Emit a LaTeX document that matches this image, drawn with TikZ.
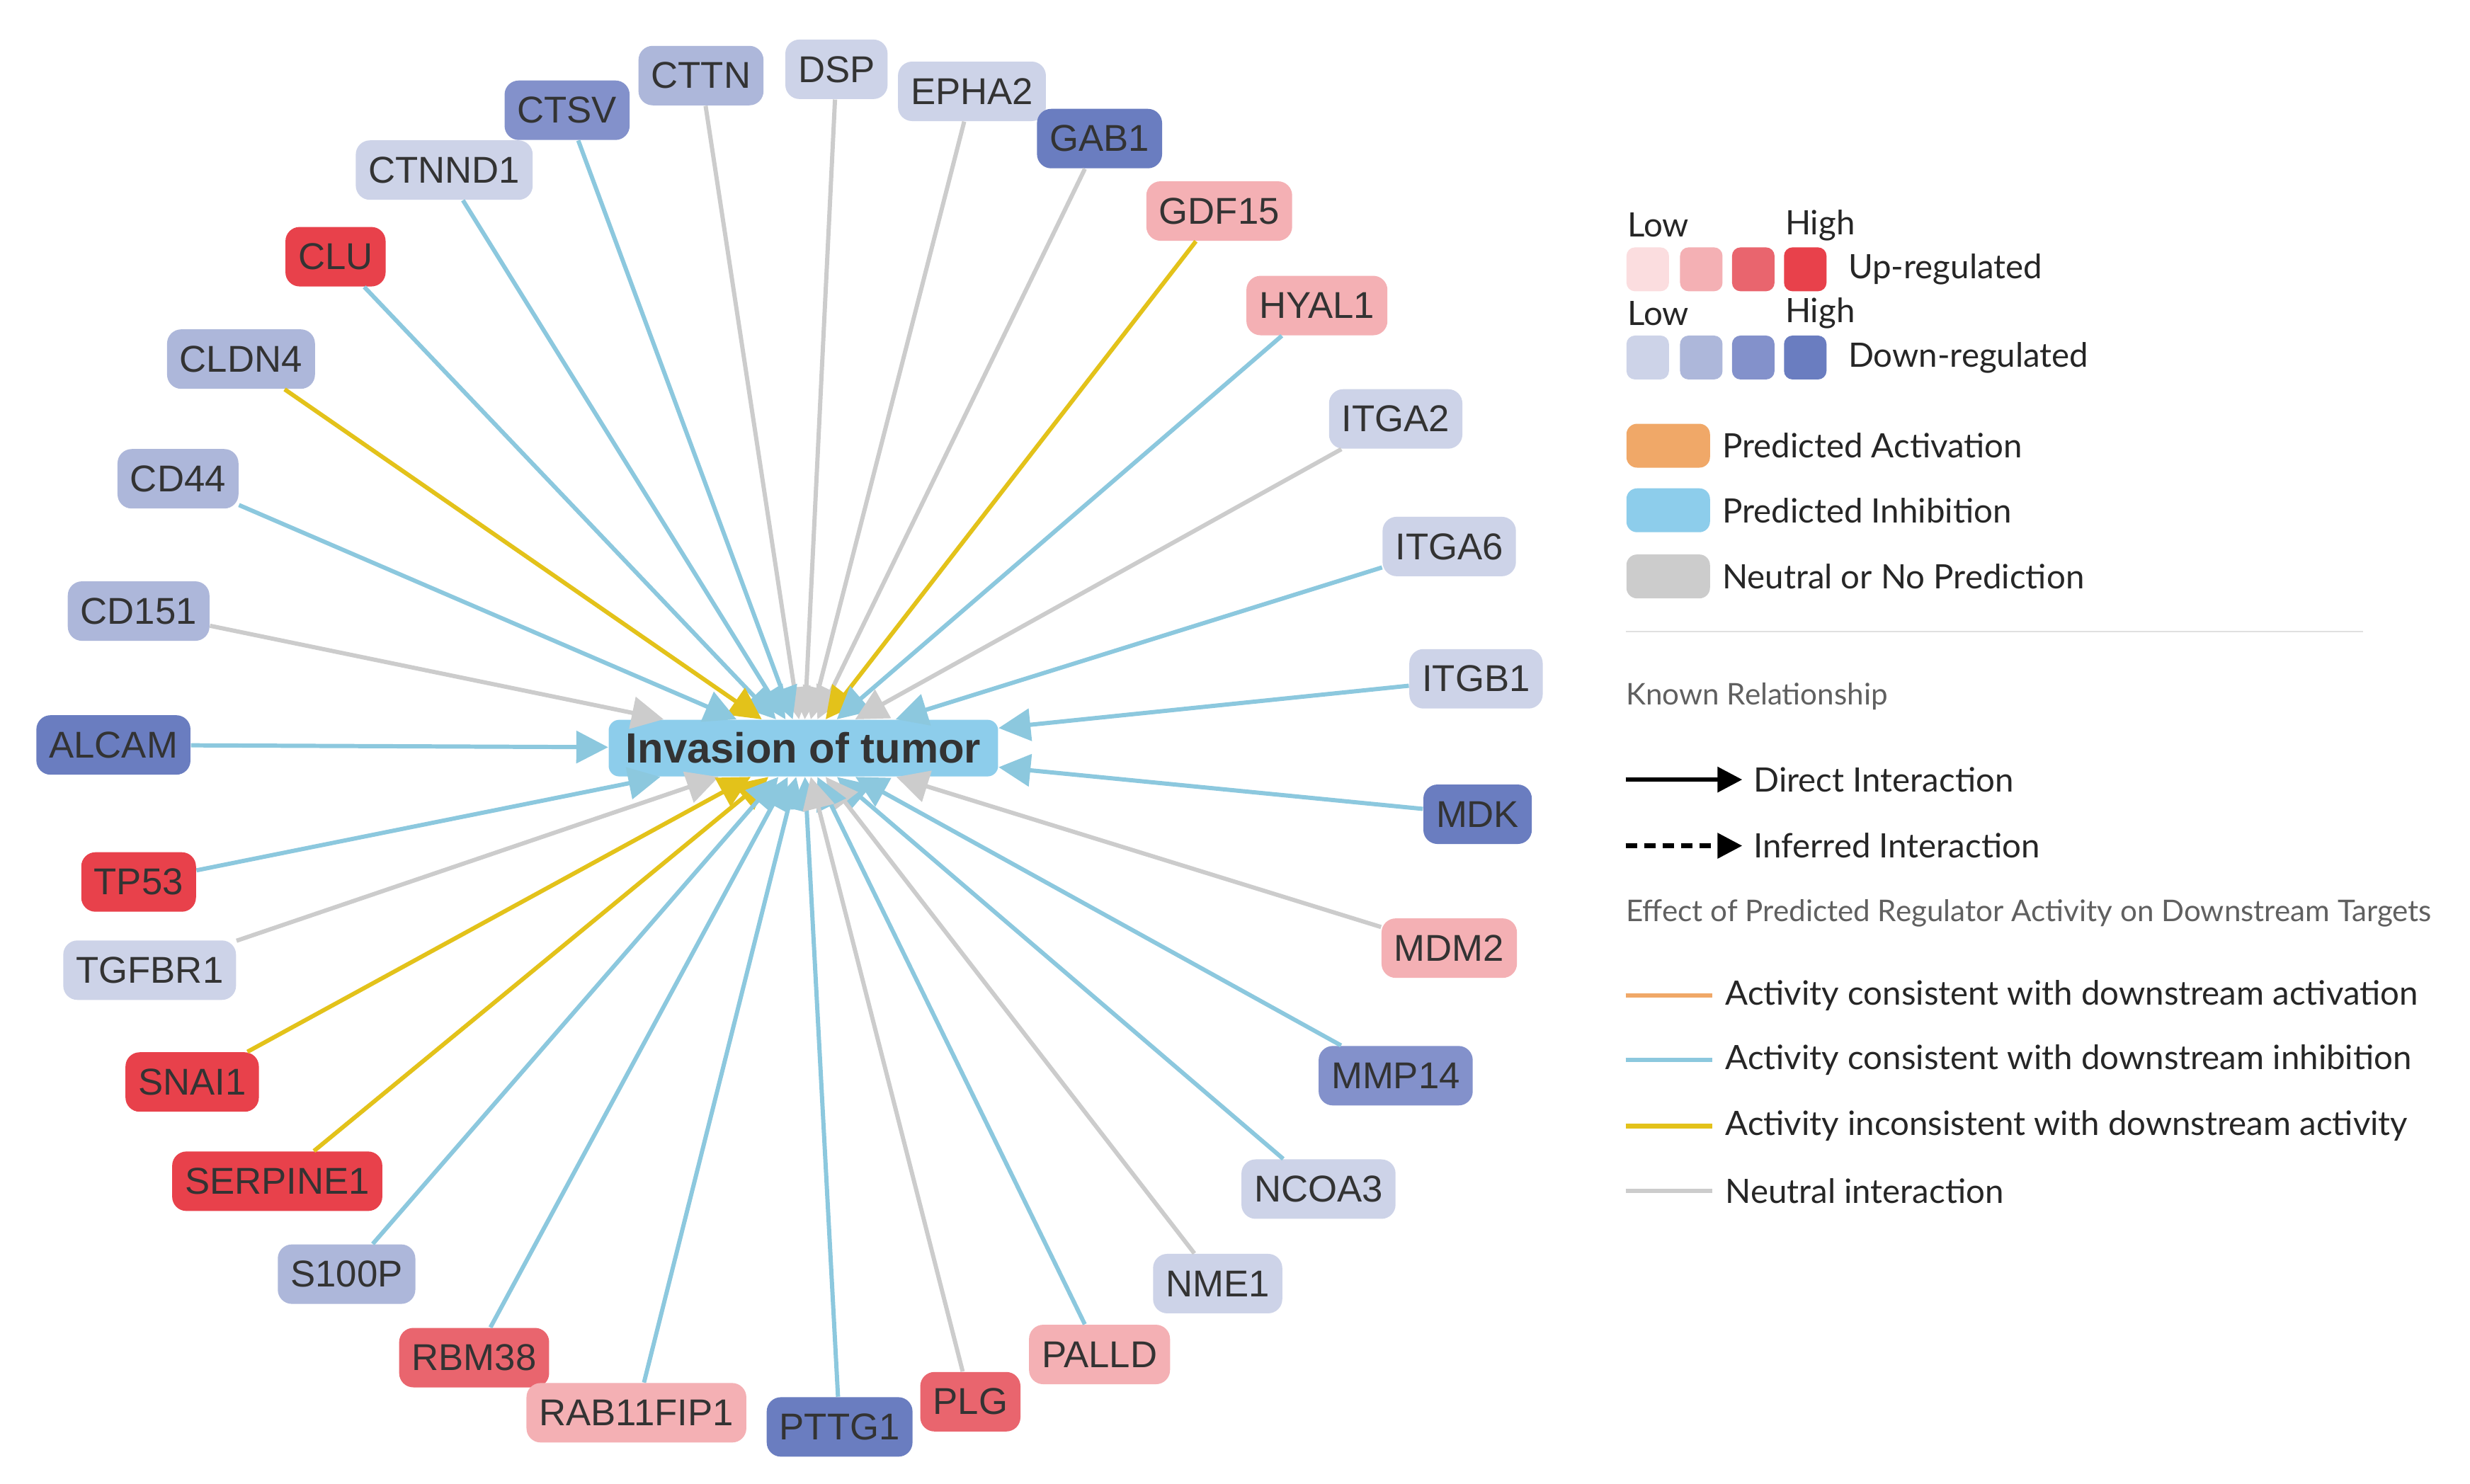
\documentclass[tikz,border=0pt]{standalone}
\usepackage{fontspec}
\setmainfont{Liberation Sans}
\newfontfamily\legfont{Lato}
\usetikzlibrary{arrows.meta}
\definecolor{uA}{HTML}{FBDDDF}\definecolor{uB}{HTML}{F4B0B4}\definecolor{uC}{HTML}{E9656E}\definecolor{uD}{HTML}{E8414B}
\definecolor{dA}{HTML}{CDD3E8}\definecolor{dB}{HTML}{ADB7DA}\definecolor{dC}{HTML}{8391CB}\definecolor{dD}{HTML}{6A7DC0}
\definecolor{eblue}{HTML}{8CC8DE}\definecolor{egray}{HTML}{CCCCCC}\definecolor{eyel}{HTML}{E3C21A}
\definecolor{eorange}{HTML}{F0A868}\definecolor{cfill}{HTML}{8DCDEB}\definecolor{txtg}{HTML}{606060}
\tikzset{
 gene/.style={rounded corners=2mm,inner xsep=1.8mm,minimum height=8.4mm,font=\fontsize{15}{15}\selectfont,text=black!80},
 edg/.style={line width=1.7pt,-{Triangle[length=4.5mm,width=4.5mm]}},
 eb/.style={edg,draw=eblue,fill=eblue},
 eg/.style={edg,draw=egray,fill=egray},
 ey/.style={edg,draw=eyel,fill=eyel},
 leg/.style={font=\legfont\fontsize{13.5}{14}\selectfont,anchor=west,inner sep=0pt,text=black!85},
 legs/.style={font=\legfont\fontsize{12}{13}\selectfont,anchor=west,inner sep=0pt,text=txtg},
 sw/.style={rounded corners=1.2mm,minimum width=6mm,minimum height=6.2mm,inner sep=0pt},
 bsw/.style={rounded corners=1.5mm,minimum width=11.8mm,minimum height=6.2mm,inner sep=0pt},
}
\begin{document}
\begin{tikzpicture}[x=0.02224cm,y=-0.02224cm]
\useasboundingbox[fill=white] (0,0) rectangle (1568,942);
\node[gene,fill=cfill,font=\bfseries\fontsize{17}{17}\selectfont,minimum width=55mm,minimum height=8mm,rounded corners=1.5mm] (C) at (510,475) {Invasion of tumor};
\foreach \n/\x/\y/\c/\e in {
CTTN/445/48/dB/eg, DSP/531/44/dA/eg, EPHA2/617/58/dA/eg, GAB1/698/88/dD/eg,
CTSV/360/70/dC/eb, CTNND1/282/108/dA/eb, GDF15/774/134/uB/ey, CLU/213/163/uD/eb,
HYAL1/836/194/uB/eb, CLDN4/153/228/dB/ey, ITGA2/886/266/dA/eg, CD44/113/304/dB/eb,
ITGA6/920/347/dA/eb, CD151/88/388/dB/eg, ITGB1/937/431/dA/eb, ALCAM/72/473/dD/eb,
MDK/938/517/dD/eb, TP53/88/560/uD/eb, MDM2/920/602/uB/eg, TGFBR1/95/616/dA/eg,
SNAI1/122/687/uD/ey, MMP14/886/683/dC/eb, SERPINE1/176/750/uD/ey, NCOA3/837/755/dA/eb,
S100P/220/809/dB/eb, NME1/773/815/dA/eg, RBM38/301/862/uC/eb, PALLD/698/860/uB/eb,
RAB11FIP1/404/897/uB/eb, PTTG1/533/906/dD/eb, PLG/616/890/uC/eg}
{\node[gene,fill=\c] (\n) at (\x,\y) {\n};
 \draw[\e] (\n) -- (C);}
% legend
\node[leg] (l1) at (1033,143) {Low}; \node[leg] (h1) at (1133,143) {High};
\foreach \i/\xx/\c in {1/1046/uA,2/1080/uB,3/1113/uC,4/1146/uD}{\node[sw,fill=\c] (u\i) at (\xx,171) {};}
\node[leg] (ul) at (1173,171) {Up-regulated};
\node[leg] (l2) at (1033,199) {Low}; \node[leg] (h2) at (1133,199) {High};
\foreach \i/\xx/\c in {1/1046/dA,2/1080/dB,3/1113/dC,4/1146/dD}{\node[sw,fill=\c] (d\i) at (\xx,227) {};}
\node[leg] (dl) at (1173,227) {Down-regulated};
\node[bsw,fill=eorange] (pa) at (1059,283) {}; \node[leg] (pat) at (1093,283) {Predicted Activation};
\node[bsw,fill=cfill] (pi) at (1059,324) {}; \node[leg] (pit) at (1093,324) {Predicted Inhibition};
\node[bsw,fill=egray] (pn) at (1059,366) {}; \node[leg] (pnt) at (1093,366) {Neutral or No Prediction};
\coordinate (s1) at (1032,401); \coordinate (s2) at (1500,401);
\draw[black!12,line width=0.6pt] (s1) -- (s2);
\node[legs] (kr) at (1032,442) {Known Relationship};
\coordinate (a1) at (1032,495); \coordinate (a2) at (1106,495);
\draw[line width=1.8pt,-{Triangle[length=3.5mm,width=3.5mm]}] (a1) -- (a2);
\node[leg] (dit) at (1113,495) {Direct Interaction};
\coordinate (b1) at (1032,537); \coordinate (b2) at (1106,537);
\draw[line width=1.8pt,dashed,dash pattern=on 1.6mm off 1mm,-{Triangle[length=3.5mm,width=3.5mm]}] (b1) -- (b2);
\node[leg] (iit) at (1113,537) {Inferred Interaction};
\node[legs] (ef) at (1032,580) {Effect of Predicted Regulator Activity on Downstream Targets};
\foreach \yy/\c/\t [count=\k] in {632/eorange/Activity consistent with downstream activation,673/eblue/Activity consistent with downstream inhibition,715/eyel/Activity inconsistent with downstream activity,756/egray/Neutral interaction}
{\coordinate (m\k a) at (1032,\yy); \coordinate (m\k b) at (1087,\yy);
 \draw[\c,line width=1.8pt] (m\k a) -- (m\k b);
 \node[leg] (mt\k) at (1095,\yy) {\t};}
\end{tikzpicture}
\end{document}
